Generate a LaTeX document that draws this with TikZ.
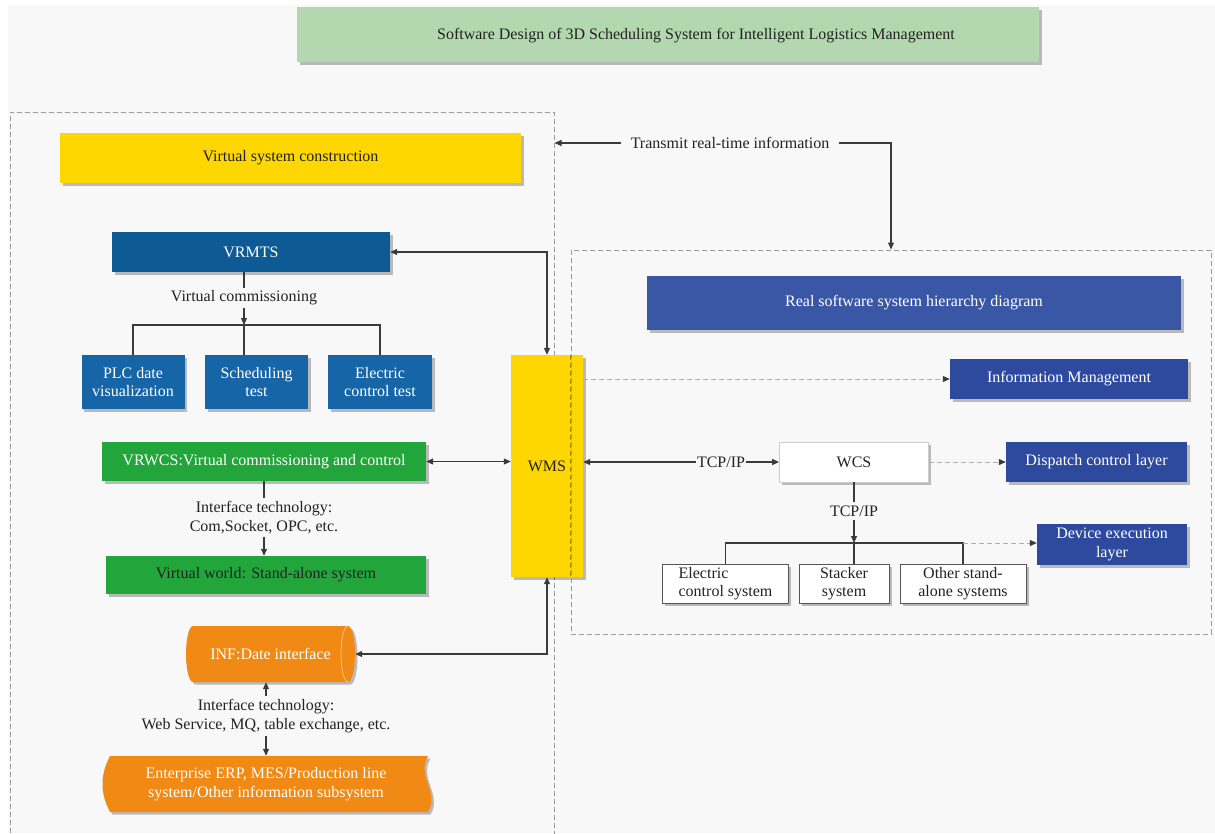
\documentclass[tikz,border=0pt]{standalone}
\usepackage{fontspec}
\setmainfont{Liberation Serif}
\usetikzlibrary{arrows.meta, positioning, calc, shadows}

\begin{document}
\begin{tikzpicture}[x=1pt, y=-1pt,
    every node/.style={font=\fontsize{16}{18.5}\selectfont},
    shade/.style={drop shadow={shadow xshift=2.5pt, shadow yshift=-2.5pt, opacity=0.25, fill=black}},
    box/.style={shade, align=center, inner sep=2pt},
    ybox/.style={box, fill=sysyellow, text=textdark},
    vbox/.style={box, fill=vrblue, text=white},
    subbox/.style={box, fill=subblue, text=white},
    gbox/.style={box, fill=sysgreen, text=white},
    rbox/.style={box, fill=realblue, text=white},
    lbox/.style={box, fill=layblue, text=white},
    wbox/.style={box, fill=white, draw=boxgray, line width=0.8pt, text=textdark},
    lbl/.style={inner sep=3pt, align=center, text=textdark},
    framebox/.style={draw=dashgray, line width=1pt, dash pattern=on 5pt off 3pt},
    conn/.style={draw=linegray, line width=1.1pt, >={Triangle[length=7pt,width=6pt]}},
    dconn/.style={draw=dashgray!80, line width=1pt, dash pattern=on 5pt off 3pt,
        -{Triangle[length=7pt,width=6pt,color=linegray]}}]

    % Colori
    \definecolor{bgcol}{HTML}{F8F8F8}
    \definecolor{titlegreen}{HTML}{B3D8AF}
    \definecolor{sysyellow}{HTML}{FFD700}
    \definecolor{vrblue}{HTML}{0E5A94}
    \definecolor{subblue}{HTML}{1565A7}
    \definecolor{sysgreen}{HTML}{22A53A}
    \definecolor{inforange}{HTML}{F08A14}
    \definecolor{realblue}{HTML}{3957A5}
    \definecolor{layblue}{HTML}{2D4A9E}
    \definecolor{textdark}{HTML}{222222}
    \definecolor{linegray}{HTML}{3A3A3A}
    \definecolor{dashgray}{HTML}{999999}
    \definecolor{boxgray}{HTML}{555555}

    % Sfondo
    \fill[white] (0,0) rectangle (1215,833);
    \fill[bgcol] (8,5) rectangle (1215,833);
    \useasboundingbox (0,0) rectangle (1215,833);

    % Titolo
    \node[box, fill=titlegreen, minimum width=742pt, minimum height=55pt] (titlebox) at (668,34.5) {};
    \node[lbl] (titletext) at (696,35.5) {Software Design of 3D Scheduling System for Intelligent Logistics Management};

    % Parte virtuale
    \node[framebox, minimum width=544pt, minimum height=740pt] (virt) at (282,482) {};
    \node[ybox, minimum width=461pt, minimum height=50pt] (vsc) at (290.5,158) {Virtual system construction};

    \node[vbox, minimum width=278pt, minimum height=40pt] (vrmts) at (251,252) {VRMTS};
    \node[lbl] (vc) at (244,298) {Virtual commissioning};
    \coordinate (vsplit) at (244,325);
    \node[subbox, minimum width=103pt, minimum height=54pt] (plc) at (133,382) {PLC date\\visualization};
    \node[subbox, minimum width=103pt, minimum height=54pt] (sched) at (256.5,382) {Scheduling\\test};
    \node[subbox, minimum width=104pt, minimum height=54pt] (elec) at (380,382) {Electric\\control test};

    \node[gbox, minimum width=324pt, minimum height=39pt] (vrwcs) at (264,461.5) {VRWCS:Virtual commissioning and control};
    \node[lbl] (ifa) at (264,517.5) {Interface technology:\\Com,Socket, OPC, etc.};
    \node[gbox, text=textdark, minimum width=320pt, minimum height=38pt] (vworld) at (266,575) {Virtual world: Stand-alone system};

    % INF (cilindro) ed ERP
    \fill[inforange, shade] (193,626) -- (348,626) arc[start angle=90, end angle=-90, x radius=7pt, y radius=28pt]
        -- (193,682) arc[start angle=270, end angle=90, x radius=7pt, y radius=28pt] -- cycle;
    \draw[inforange!55!white, line width=0.8pt] (348,626) arc[start angle=90, end angle=270, x radius=7pt, y radius=28pt];
    \node[lbl, text=white, minimum width=169pt, minimum height=56pt, inner sep=0pt] (inf) at (270.5,654) {INF:Date interface};
    \node[lbl] (ifb) at (266,716) {Interface technology:\\Web Service, MQ, table exchange, etc.};
    \fill[inforange, shade] (110,756) -- (428,756) .. controls (416,776) and (440,792) .. (428,812)
        -- (110,812) .. controls (100,793) and (100,775) .. (110,756) -- cycle;
    \node[lbl, text=white, minimum width=324pt, minimum height=56pt, inner sep=0pt] (erp) at (266,784) {Enterprise ERP, MES/Production line\\system/Other information subsystem};

    % WMS
    \node[ybox, minimum width=72pt, minimum height=222pt] (wms) at (547,466) {WMS};

    % Parte reale
    \node[framebox, minimum width=640pt, minimum height=384pt] (realsys) at (891,442) {};
    \draw[framebox, draw=sysyellow!65!black] (wms.north -| realsys.west) -- (wms.south -| realsys.west);
    \node[rbox, minimum width=534pt, minimum height=54pt] (real) at (914,303) {Real software system hierarchy diagram};
    \node[lbox, minimum width=238pt, minimum height=40pt] (info) at (1069,379) {Information Management};
    \node[wbox, draw=dashgray!50, minimum width=149pt, minimum height=40pt] (wcs) at (854,462) {WCS};
    \node[lbox, minimum width=181pt, minimum height=40pt] (disp) at (1096.5,462) {Dispatch control layer};
    \node[lbl, inner sep=1pt] (tcpa) at (721,462) {TCP/IP};
    \node[lbl] (tcpb) at (854,511) {TCP/IP};
    \coordinate (wbus) at (854,543);
    \node[lbox, minimum width=150pt, minimum height=41pt] (dev) at (1112,544.5) {Device execution\\layer};
    \node[wbox, align=left, minimum width=126pt, minimum height=39pt] (ecs) at (725.5,583.5) {Electric\\control system};
    \node[wbox, minimum width=90pt, minimum height=39pt] (stk) at (844,583.5) {Stacker\\system};
    \node[wbox, minimum width=126pt, minimum height=39pt] (oth) at (963,583.5) {Other stand-\\alone systems};

    \node[lbl, inner xsep=10pt] (trans) at (730,143) {Transmit real-time information};

    % Collegamenti
    \draw[conn, ->] (trans.west) -- (trans.west -| virt.east);
    \draw[conn, ->] (trans.east) -| (realsys.north);

    \draw[conn] (vc |- vrmts.south) -- (vc.north);
    \draw[conn, ->] (vc.south) -- (vsplit);
    \draw[conn] (plc.north) |- (vsplit) -| (elec.north);
    \draw[conn] (vsplit) -- (vsplit |- sched.north);
    \draw[conn, <->] (vrmts.east) -| (wms.north);

    \draw[conn, <->] (vrwcs.east) -- (vrwcs.east -| wms.west);
    \draw[conn] (ifa |- vrwcs.south) -- (ifa.north);
    \draw[conn, ->] (ifa.south) -- (ifa |- vworld.north);

    \draw[conn, <->] (inf.east) -| (wms.south);
    \draw[conn, ->] (ifb.north) -- (ifb |- inf.south);
    \draw[conn, ->] (ifb.south) -- (ifb |- erp.north);

    \draw[dconn] (wms.east |- info) -- (info.west);
    \draw[conn, <-] (wms.east |- wcs) -- (tcpa.west);
    \draw[conn, ->] (tcpa.east) -- (wcs.west);
    \draw[dconn] (wcs.east) -- (disp.west);
    \draw[conn] (tcpb |- wcs.south) -- (tcpb.north);
    \draw[conn, ->] (tcpb.south) -- (wbus);
    \draw[conn] (ecs.north) |- (wbus) -| (oth.north);
    \draw[conn] (wbus) -- (wbus |- stk.north);
    \draw[dconn] (oth.north |- wbus) -- (dev.west |- wbus);
\end{tikzpicture}
\end{document}
